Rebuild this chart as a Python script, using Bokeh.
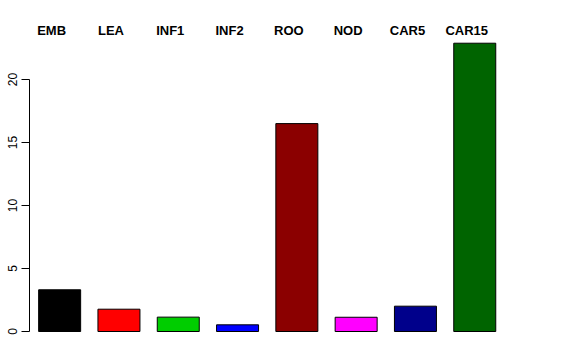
from bokeh.plotting import figure
from bokeh.models import ColumnDataSource, Range1d, FixedTicker, LabelSet
from bokeh.core.properties import value
from bokeh.embed import file_html
from bokeh.resources import INLINE

categories = ["EMB", "LEA", "INF1", "INF2", "ROO", "NOD", "CAR5", "CAR15"]
values = [3.31, 1.77, 1.14, 0.53, 16.5, 1.13, 2.01, 22.88]
colors = ["#000000", "#FF0000", "#00CD00", "#0000FF", "#8B0000", "#FF00FF", "#00008B", "#006400"]
y_ticks = [0, 5, 10, 15, 20]

px_per_x = 59.3
px_per_y = 12.6
frame_w = 547
frame_h = 360
x_start = -30.15 / px_per_x
y_start = -(360 - 331) / px_per_y
y_end = y_start + frame_h / px_per_y
label_y = y_end - 30 / px_per_y

xs = list(range(len(categories)))
src = ColumnDataSource(dict(x=xs, top=values, color=colors, name=categories,
                            ly=[label_y] * len(xs)))

p = figure(width=576, height=360, output_backend="svg", toolbar_location=None,
           x_range=Range1d(x_start, x_start + frame_w / px_per_x),
           y_range=Range1d(y_start, y_end),
           min_border_left=29, min_border_right=0, min_border_top=0, min_border_bottom=0)
p.background_fill_color = "white"
p.border_fill_color = "white"
p.outline_line_color = None
p.xgrid.visible = False
p.ygrid.visible = False
p.xaxis.visible = False

p.vbar(x="x", top="top", bottom=0, width=42 / px_per_x, fill_color="color",
       line_color="black", line_width=1, source=src)

labels = LabelSet(x="x", y="ly", text="name", source=src, x_offset=-8,
                  text_align="center", text_baseline="middle",
                  text_font=value("Liberation Sans"), text_font_style="bold",
                  text_font_size="13px", text_color="black")
p.add_layout(labels)

ya = p.yaxis[0]
ya.ticker = FixedTicker(ticks=y_ticks)
ya.bounds = (0, 20)
ya.major_label_orientation = "vertical"
ya.major_tick_in = 0
ya.major_tick_out = 8
ya.minor_tick_line_color = None
ya.axis_line_color = "black"
ya.major_tick_line_color = "black"
ya.major_label_text_font = "Liberation Sans"
ya.major_label_text_font_size = "12px"
ya.major_label_text_color = "black"
ya.major_label_standoff = 5

open("out.html", "w").write(file_html(p, INLINE))
